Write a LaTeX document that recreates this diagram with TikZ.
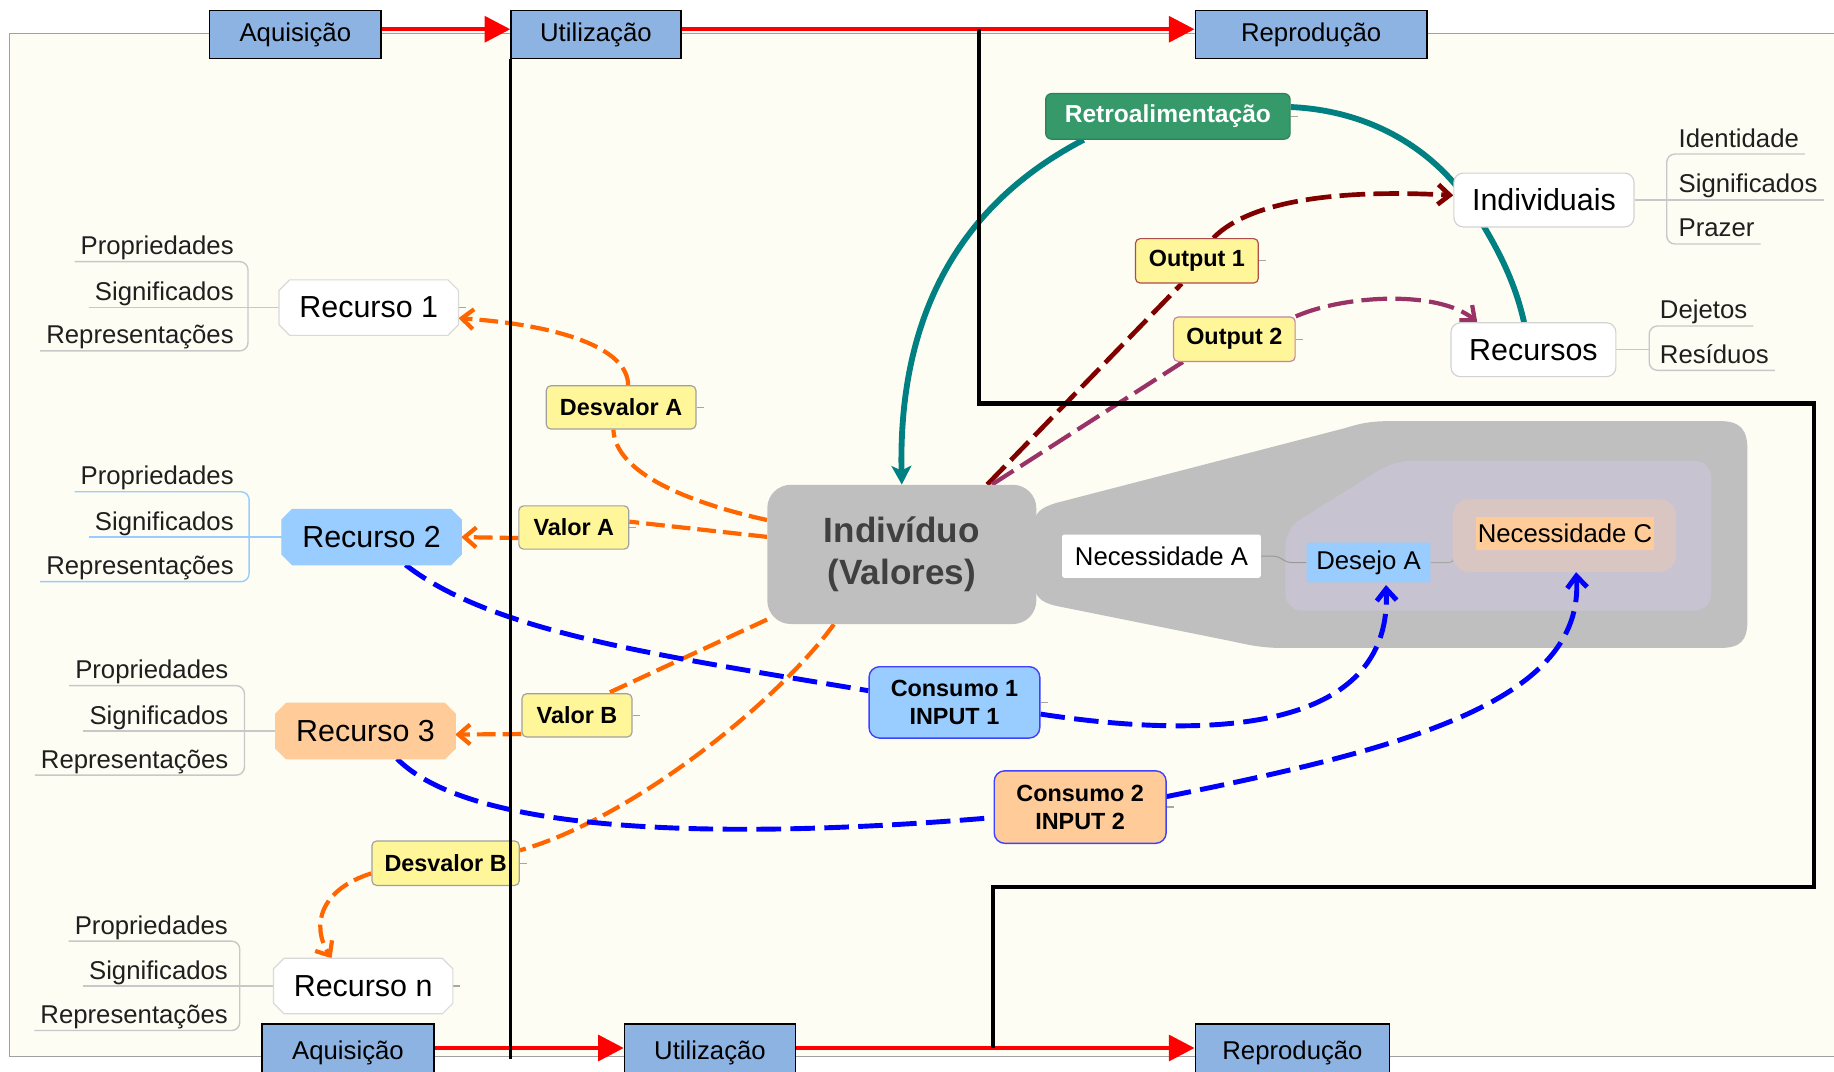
\documentclass[tikz,border=0pt]{standalone}
\usepackage{fontspec}
\setmainfont{Liberation Sans}
\usetikzlibrary{arrows.meta}

\pgfdeclarelayer{bg}
\pgfdeclarelayer{edges}
\pgfdeclarelayer{plates}
\pgfdeclarelayer{fore}
\pgfsetlayers{bg,edges,plates,main,fore}

\definecolor{paper}{HTML}{FEFDF4}
\definecolor{framegray}{HTML}{A0A0A0}
\definecolor{stage}{HTML}{8DB3E2}
\definecolor{vgray}{HTML}{BFBFBF}
\definecolor{innerv}{HTML}{C7C3D1}
\definecolor{innero}{HTML}{D9C6C2}
\definecolor{peach}{HTML}{FFCC99}
\definecolor{skyb}{HTML}{99CCFF}
\definecolor{note}{HTML}{FFF599}
\definecolor{notegray}{HTML}{A0A0A0}
\definecolor{fbgreen}{HTML}{35996A}
\definecolor{tealc}{HTML}{008080}
\definecolor{darkred}{HTML}{800000}
\definecolor{plum}{HTML}{993366}
\definecolor{orng}{HTML}{FF6600}
\definecolor{rulegray}{HTML}{C8C8C8}
\definecolor{valtext}{HTML}{404040}

% three attribute labels with their bracket, hung on the left of a resource node
% #1 prefix, #2 right edge of text, #3 bracket x, #4/#5/#6 rule y (top, middle, bottom),
% #7 rule colour, #8 resource node
\newcommand\leftlabels[8]{%
  \node[lbl, anchor=base east] (#1p) at (#2,#4-6) {Propriedades};
  \node[lbl, anchor=base east] (#1s) at (#2,#5-6) {Significados};
  \node[lbl, anchor=base east] (#1r) at (#2,#6-6) {Representações};
  \begin{pgfonlayer}{edges}
    \draw[rule=#7, rounded corners=7] ([xshift=-5pt,yshift=-6pt]#1p.base west) -- (#3,#4) -- (#3,#6) -- ([xshift=-5pt,yshift=-6pt]#1r.base west);
    \draw[rule=#7] ([xshift=-5pt,yshift=-6pt]#1s.base west) -- (#8.west);
  \end{pgfonlayer}
}

% plate with small cut corners behind a resource node: #1 node, #2 fill, #3 outline
\newcommand\cutplate[3]{%
  \begin{pgfonlayer}{plates}
    \filldraw[fill=#2, draw=#3, line width=1pt]
      ([xshift=9pt]#1.north west) -- ([xshift=-9pt]#1.north east)
      -- ([yshift=-9pt]#1.north east) -- ([yshift=9pt]#1.south east)
      -- ([xshift=-9pt]#1.south east) -- ([xshift=9pt]#1.south west)
      -- ([yshift=9pt]#1.south west) -- ([yshift=-9pt]#1.north west) -- cycle;
  \end{pgfonlayer}
}

\begin{document}
\begin{tikzpicture}[x=1pt,y=-1pt,
  lbl/.style={inner sep=0pt, font=\fontsize{22}{26}\selectfont, text=black!88},
  rule/.style={draw=#1, line width=1.2pt},
  stagebox/.style={draw=black, line width=1.4pt, fill=stage, inner sep=0pt,
    minimum height=41, font=\fontsize{22}{26}\selectfont},
  flow/.style={draw=red, line width=3.6pt, -{Triangle[length=22pt,width=22pt]}},
  divider/.style={draw=black, line width=3pt},
  resnode/.style={rectangle, minimum width=153, minimum height=47,
    inner sep=0pt, font=\fontsize{26}{30}\selectfont},
  notebox/.style={fill=note, draw=notegray, line width=1pt, rounded corners=4,
    inner sep=0pt, minimum height=37, font=\bfseries\fontsize{20}{24}\selectfont},
  softbox/.style={fill=white, draw=gray!35, line width=1pt, rounded corners=8,
    inner sep=0pt, minimum height=46, font=\fontsize{26}{30}\selectfont},
  consumo/.style={draw=blue!75, line width=1.2pt, rounded corners=9, inner sep=0pt,
    minimum width=146, minimum height=61, align=center,
    font=\bfseries\fontsize{20}{24}\selectfont},
  stub/.style={draw=gray!70, line width=1pt},
  odash/.style={draw=orng, line width=3.6pt, dash pattern=on 16pt off 6pt},
  bdash/.style={draw=blue, line width=4.2pt, dash pattern=on 21pt off 8pt},
  rdash/.style={draw=darkred, line width=4pt, dash pattern=on 22pt off 7pt},
  pdash/.style={draw=plum, line width=3.6pt, dash pattern=on 22pt off 7pt},
  barb/.style={-{Straight Barb[length=10pt,width=17pt]}},
  tealline/.style={draw=tealc, line width=5pt}
]
\useasboundingbox (0,0) rectangle (1568,916);

% ---------- background panel and the needs region ----------
\begin{pgfonlayer}{bg}
  \fill[paper] (8,28.5) rectangle (1590,903.5);
  \draw[framegray, line width=1.2pt] (1590,28.5) -- (8,28.5) -- (8,903.5) -- (1590,903.5);
  \fill[vgray] (884,450) .. controls (884,438) and (890,434) .. (903,430)
    -- (1150,366) .. controls (1166,361) and (1174,360) .. (1192,360)
    -- (1470,360) .. controls (1488,360) and (1494,367) .. (1494,385)
    -- (1494,530) .. controls (1494,548) and (1488,554) .. (1470,554)
    -- (1098,554) .. controls (1080,554) and (1070,552) .. (1052,548)
    -- (903,518) .. controls (890,515) and (884,510) .. (884,498) -- cycle;
  \fill[innerv, rounded corners=14] (1099,452) -- (1192,394) -- (1463,394)
    -- (1463,522) -- (1099,522) -- cycle;
\end{pgfonlayer}

% ---------- stages ----------
\node[stagebox, minimum width=147] (aq1) at (252.5,29.5) {Aquisição};
\node[stagebox, minimum width=145] (ut1) at (509.5,29.5) {Utilização};
\node[stagebox, minimum width=198] (re1) at (1121,29.5) {Reprodução};
\node[stagebox, minimum width=147, minimum height=50] (aq2) at (297.5,900.5) {Aquisição};
\node[stagebox, minimum width=146, minimum height=50] (ut2) at (607,900.5) {Utilização};
\node[stagebox, minimum width=166, minimum height=50] (re2) at (1105,900.5) {Reprodução};

% ---------- individual and needs ----------
\node[fill=vgray, rounded corners=20, inner sep=0pt, minimum width=230, minimum height=119,
  text=valtext, align=center, font=\bfseries\fontsize{30}{36}\selectfont]
  (ind) at (771,474) {Indivíduo\\(Valores)};
\node[fill=innero, rounded corners=14, inner sep=0pt, minimum width=191, minimum height=62]
  (needc) at (1337.5,458) {};
\node[fill=peach, inner sep=0pt, minimum width=152, minimum height=28,
  font=\fontsize{22}{26}\selectfont] (necC) at (1338,456) {Necessidade C};
\node[fill=white, rounded corners=2, inner sep=0pt, minimum width=170, minimum height=37,
  font=\fontsize{22}{26}\selectfont] (necA) at (993,475.5) {Necessidade A};
\node[fill=skyb, rounded corners=2, inner sep=0pt, minimum width=106, minimum height=34,
  font=\fontsize{22}{26}\selectfont] (desA) at (1170,481) {Desejo A};

% ---------- reproduction side ----------
\node[fill=fbgreen, draw=fbgreen!85!black, line width=1pt, rounded corners=5, inner sep=0pt,
  minimum width=209, minimum height=39, text=white,
  font=\bfseries\fontsize{21}{25}\selectfont] (retro) at (998.5,99.5) {Retroalimentação};
\node[softbox, minimum width=154] (indv) at (1320,171) {Individuais};
\node[softbox, minimum width=141] (recs) at (1311,299) {Recursos};
\node[notebox, draw=red!55!black!70, minimum width=105, minimum height=38] (o1) at (1023.3,223) {Output 1};
\node[notebox, draw=plum!60, minimum width=104, minimum height=38] (o2) at (1055.3,290) {Output 2};

\node[lbl, anchor=base west] (ia) at (1435,125.7) {Identidade};
\node[lbl, anchor=base west] (ib) at (1435,165) {Significados};
\node[lbl, anchor=base west] (ic) at (1435,202.6) {Prazer};
\node[lbl, anchor=base west] (da) at (1419,272.7) {Dejetos};
\node[lbl, anchor=base west] (db) at (1419,310.6) {Resíduos};
\coordinate (recjoin) at (1410,299);

% ---------- resources ----------
\node[resnode] (r1) at (315.3,263) {Recurso 1};
\node[resnode] (r2) at (317.7,459.2) {Recurso 2};
\node[resnode] (r3) at (312.5,625) {Recurso 3};
\node[resnode] (rn) at (310.5,843) {Recurso n};
\cutplate{r1}{white}{gray!30}
\cutplate{r2}{skyb}{skyb}
\cutplate{r3}{peach}{peach}
\cutplate{rn}{white}{gray!30}

\leftlabels{ra}{200}{212}{223.7}{263}{300}{rulegray}{r1}
\leftlabels{rb}{200}{213}{420.4}{459.2}{497.3}{skyb}{r2}
\leftlabels{rc}{195.4}{209}{586.2}{625}{662.7}{rulegray}{r3}
\leftlabels{rd}{195}{205}{804.6}{843}{881}{rulegray}{rn}

% ---------- values ----------
\node[notebox, minimum width=128] (dva) at (531,348.3) {Desvalor A};
\node[notebox, minimum width=94] (vala) at (490.6,451) {Valor A};
\node[notebox, minimum width=94] (valb) at (493.3,611.6) {Valor B};
\node[notebox, minimum width=126, minimum height=38] (dvb) at (381,738) {Desvalor B};

% ---------- consumption ----------
\node[consumo, fill=skyb] (c1) at (816,600.5) {Consumo 1\\INPUT 1};
\node[consumo, fill=peach, minimum width=147, minimum height=62] (c2) at (923.5,690) {Consumo 2\\INPUT 2};

% ---------- connectors ----------
\begin{pgfonlayer}{edges}
  % attribute brackets on the right
  \draw[rule=rulegray, rounded corners=7] ([xshift=5pt,yshift=-6pt]ia.base east) -- (1425,131.7)
    -- (1425,208.6) -- ([xshift=5pt,yshift=-6pt]ic.base east);
  \draw[rule=rulegray] (indv.east) -- ([xshift=5pt,yshift=-6pt]ib.base east);
  \draw[rule=rulegray, rounded corners=7] ([xshift=5pt,yshift=-6pt]da.base east) -- (1410,278.7)
    -- (1410,316.6) -- ([xshift=5pt,yshift=-6pt]db.base east);
  \draw[rule=rulegray] (recs.east) -- (recjoin);

  % links inside the needs region
  \draw[draw=gray!80, line width=0.8pt, rounded corners=4] (necA.east) -- (1093,475.5)
    -- (1100,481) -- (desA.west);
  \draw[draw=gray!70, line width=0.8pt, rounded corners=4] (desA.east) -- (1243,481)
    -- (1243,471) -- (1418,471);

  % small handles
  \foreach \n in {dva,vala,valb,dvb,o1,o2,c1,c2,r1,rn,retro}
    \draw[stub] (\n.east) -- ++(6,0);

  % feedback
  \draw[tealline] ([yshift=8pt]retro.east) .. controls (1180,95) and (1230,135) .. (1255,172)
    .. controls (1280,210) and (1295,240) .. ([xshift=-8pt]recs.north);
  \draw[tealline, -{Stealth[length=16pt,width=17pt,inset=4pt]}]
    ([xshift=-72pt]retro.south) .. controls (820,175) and (768,270) .. (ind.north);

  % outputs
  \draw[rdash] ([xshift=73pt]ind.north) -- ([xshift=-13pt]o1.south);
  \draw[rdash, barb] ([xshift=14pt]o1.north) .. controls (1070,170) and (1150,162) .. ([yshift=4pt]indv.west);
  \draw[pdash] ([xshift=77pt]ind.north) -- ([xshift=-44pt]o2.south);
  \draw[pdash, barb] (o2.north east) .. controls (1150,252) and (1230,248) .. ([xshift=23pt]recs.north west);

  % values and disvalues
  \draw[odash] ([yshift=29.4pt]ind.west) .. controls (590,430) and (526,405) .. ([xshift=-6.6pt]dva.south);
  \draw[odash, barb] ([xshift=6pt]dva.north) .. controls (537,298) and (480,278) .. ([yshift=-9pt]r1.east);
  \draw[odash] ([yshift=15pt]ind.west) -- ([yshift=5pt]vala.east);
  \draw[odash, barb] ([yshift=-9pt]vala.west) -- (r2.east);
  \draw[odash] ([yshift=4pt]ind.south west) -- ([xshift=-21pt]valb.north east);
  \draw[odash, barb] ([yshift=-16pt]valb.west) -- ([yshift=-3pt]r3.east);
  \draw[odash] ([xshift=-58pt]ind.south) .. controls (665,600) and (540,700) .. ([yshift=11pt]dvb.east);
  \draw[odash, barb] ([yshift=-8.7pt]dvb.west) .. controls (275,760) and (265,790) .. ([xshift=-27pt]rn.north);

  % consumption
  \draw[bdash] ([xshift=29pt]r2.south) .. controls (420,540) and (560,560) .. ([yshift=10pt]c1.west);
  \draw[bdash, barb] ([yshift=-10pt]c1.east) .. controls (1050,635) and (1190,620) .. ([xshift=15pt,yshift=-2pt]desA.south);
  \draw[bdash] ([xshift=27pt]r3.south) .. controls (400,710) and (600,720) .. ([yshift=-9pt]c2.west);
  \draw[bdash, barb] ([yshift=9pt]c2.east) .. controls (1200,640) and (1355,600) .. ([xshift=10pt]needc.south);
\end{pgfonlayer}

% ---------- stage flow and boundaries ----------
\begin{pgfonlayer}{fore}
  \draw[flow] ([yshift=4.5pt]aq1.east) -- ([yshift=4.5pt]ut1.west);
  \draw[flow] ([yshift=4.5pt]ut1.east) -- ([yshift=4.5pt]re1.west);
  \draw[flow] ([yshift=4.5pt]aq2.east) -- ([yshift=4.5pt]ut2.west);
  \draw[flow] ([yshift=4.5pt]ut2.east) -- ([yshift=4.5pt]re2.west);
  \draw[divider] (ut1.south west) -- ++(0,855);
  \draw[divider, line width=3.5pt] (837,25) -- (837,345) -- (1551,345) -- (1551,758)
    -- (849,758) -- (849,896);
\end{pgfonlayer}
\end{tikzpicture}
\end{document}
